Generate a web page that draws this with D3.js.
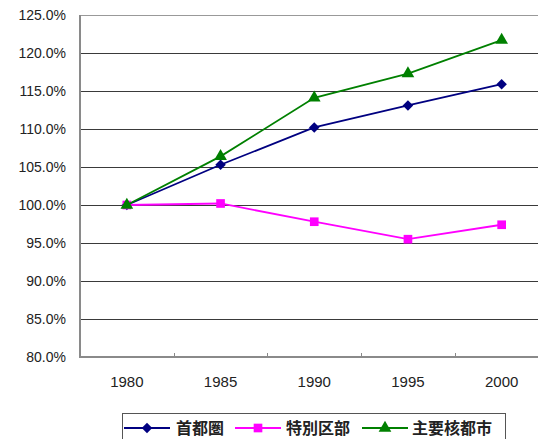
<!DOCTYPE html>
<html>
<head>
<meta charset="utf-8">
<script src="https://cdn.jsdelivr.net/npm/d3@7"></script>
<style>
  html, body { margin: 0; padding: 0; background: #fff; }
  svg { display: block; }
  text { font-family: "Liberation Sans", Arial, sans-serif; }
  .jp { font-family: "Noto Sans CJK JP", sans-serif; }
</style>
</head>
<body>
<svg id="chart" width="538" height="439"></svg>
<script>
// Population index (1980 = 100%)
const years = ["1980", "1985", "1990", "1995", "2000"];
const shutoken = [100.0, 105.3, 110.2, 113.1, 115.9];      // 首都圏
const tokubetsuKubu = [100.0, 100.2, 97.8, 95.5, 97.4];   // 特別区部
const shuyoKakutoshi = [100.0, 106.4, 114.1, 117.3, 121.7]; // 主要核都市
const yTicks = [80, 85, 90, 95, 100, 105, 110, 115, 120, 125];

const series = [
  { name: "首都圏", values: shutoken, color: "#000080", marker: "diamond" },
  { name: "特別区部", values: tokubetsuKubu, color: "#ff00ff", marker: "square" },
  { name: "主要核都市", values: shuyoKakutoshi, color: "#008000", marker: "triangle" }
];

const svg = d3.select("#chart");
const plot = { left: 80, right: 548.5, top: 15, bottom: 357 };

const x = d3.scaleBand().domain(years).range([plot.left, plot.right]).paddingInner(0).paddingOuter(0);
const cx = d => x(d) + x.bandwidth() / 2;
const y = d3.scaleLinear().domain([80, 125]).range([plot.bottom, plot.top]);

// Horizontal gridlines
svg.append("g")
  .selectAll("line")
  .data(yTicks.slice(1, -1))
  .join("line")
  .attr("x1", plot.left).attr("x2", plot.right)
  .attr("y1", d => Math.round(y(d)) + 0.5).attr("y2", d => Math.round(y(d)) + 0.5)
  .attr("stroke", "#3a3a3a").attr("stroke-width", 1);

// Plot border (top)
svg.append("line")
  .attr("x1", plot.left).attr("x2", plot.right)
  .attr("y1", Math.round(y(125)) + 0.5).attr("y2", Math.round(y(125)) + 0.5)
  .attr("stroke", "#999").attr("stroke-width", 1.2);

// Y axis
const yAxis = d3.axisLeft(y).tickValues(yTicks).tickSize(0).tickPadding(14)
  .tickFormat(d => d3.format(".1f")(d) + "%");
const gy = svg.append("g").attr("transform", `translate(${plot.left},0)`).call(yAxis);
gy.select(".domain").remove();
gy.selectAll("text").attr("font-size", 14).attr("fill", "#222")
  .attr("font-family", "\"Liberation Sans\", Arial, sans-serif");

// X axis (labels centred in each category, ticks on the category boundaries)
const gx = svg.append("g").attr("transform", `translate(0,${plot.bottom})`);
gx.selectAll("line.tick")
  .data(years.slice(1))
  .join("line")
  .attr("class", "tick")
  .attr("x1", d => Math.round(x(d)) + 0.5).attr("x2", d => Math.round(x(d)) + 0.5)
  .attr("y1", -4).attr("y2", 0)
  .attr("stroke", "#888");
gx.selectAll("text")
  .data(years)
  .join("text")
  .attr("x", d => cx(d))
  .attr("y", 30)
  .attr("text-anchor", "middle")
  .attr("font-size", 15)
  .attr("fill", "#222")
  .text(d => d);

// Axis lines
svg.append("line")
  .attr("x1", plot.left).attr("x2", plot.left)
  .attr("y1", plot.top).attr("y2", plot.bottom + 1)
  .attr("stroke", "#8a8a8a").attr("stroke-width", 2);
svg.append("line")
  .attr("x1", plot.left).attr("x2", plot.right)
  .attr("y1", plot.bottom).attr("y2", plot.bottom)
  .attr("stroke", "#8a8a8a").attr("stroke-width", 2);

// Markers
const symbolOf = {
  diamond: d3.symbol().type(d3.symbolDiamond2).size(70),
  square: d3.symbol().type(d3.symbolSquare).size(75),
  triangle: d3.symbol().type(d3.symbolTriangle).size(70)
};

const line = d3.line().x((v, i) => cx(years[i])).y(v => y(v));

series.forEach(s => {
  const g = svg.append("g");
  g.append("path")
    .attr("d", line(s.values))
    .attr("fill", "none")
    .attr("stroke", s.color)
    .attr("stroke-width", 1.8);
  g.selectAll("path.pt")
    .data(s.values)
    .join("path")
    .attr("class", "pt")
    .attr("transform", (v, i) => `translate(${cx(years[i])},${y(v)})`)
    .attr("d", symbolOf[s.marker]())
    .attr("fill", s.color);
});

// Legend (box runs past the lower edge of the canvas)
const legend = svg.append("g");
legend.append("rect")
  .attr("x", 122.5).attr("y", 413.5).attr("width", 383).attr("height", 40)
  .attr("fill", "#fff").attr("stroke", "#555").attr("stroke-width", 1);

const legendItems = [
  { s: series[0], x0: 124, textX: 176 },
  { s: series[1], x0: 235, textX: 286 },
  { s: series[2], x0: 362, textX: 412 }
];
const ly = 428;
legendItems.forEach(it => {
  legend.append("line")
    .attr("x1", it.x0).attr("x2", it.x0 + 46)
    .attr("y1", ly).attr("y2", ly)
    .attr("stroke", it.s.color).attr("stroke-width", 1.8);
  legend.append("path")
    .attr("transform", `translate(${it.x0 + 23},${ly})`)
    .attr("d", symbolOf[it.s.marker]())
    .attr("fill", it.s.color);
  legend.append("text")
    .attr("class", "jp")
    .attr("x", it.textX).attr("y", ly)
    .attr("dy", "0.36em")
    .attr("font-size", 16)
    .attr("font-weight", 700)
    .attr("fill", "#222")
    .text(it.s.name);
});
</script>
</body>
</html>
